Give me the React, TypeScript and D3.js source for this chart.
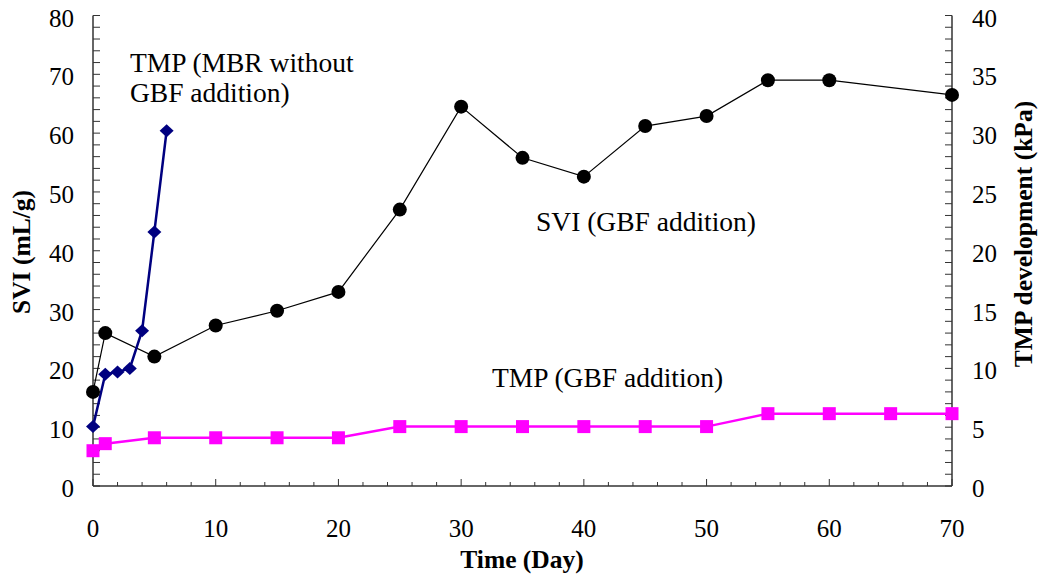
import React from "react";
import * as d3 from "d3";

const sviDays = [0, 1, 5, 10, 15, 20, 25, 30, 35, 40, 45, 50, 55, 60, 70];
const sviValues = [16, 26, 22, 27.3, 29.8, 33, 47, 64.5, 55.8, 52.6, 61.2, 62.9, 69, 69, 66.5];

const tmpMbrDays = [0, 1, 2, 3, 4, 5, 6];
const tmpMbrValues = [5.05, 9.5, 9.7, 10.0, 13.2, 21.6, 30.2];

const tmpGbfDays = [0, 1, 5, 10, 15, 20, 25, 30, 35, 40, 45, 50, 55, 60, 65, 70];
const tmpGbfValues = [3.0, 3.6, 4.1, 4.1, 4.1, 4.1, 5.05, 5.05, 5.05, 5.05, 5.05, 5.05, 6.15, 6.15, 6.15, 6.15];

const xTicks = [0, 10, 20, 30, 40, 50, 60, 70];
const leftTicks = [0, 10, 20, 30, 40, 50, 60, 70, 80];
const rightTicks = [0, 5, 10, 15, 20, 25, 30, 35, 40];

const W = 1043;
const H = 582;
const L = 93, R = 952, T = 15.5, B = 486;
const FONT = "\"Times New Roman\", Times, \"Liberation Serif\", serif";

export default function App() {
  const x = d3.scaleLinear().domain([0, 70]).range([L, R]);
  const yL = d3.scaleLinear().domain([0, 80]).range([B, T]);
  const yR = d3.scaleLinear().domain([0, 40]).range([B, T]);

  const sviPts: [number, number][] = sviDays.map((d, i) => [x(d), yL(sviValues[i])]);
  const mbrPts: [number, number][] = tmpMbrDays.map((d, i) => [x(d), yR(tmpMbrValues[i])]);
  const gbfPts: [number, number][] = tmpGbfDays.map((d, i) => [x(d), yR(tmpGbfValues[i])]);
  const line = d3.line();

  const xMinor = d3.range(0, 71, 2);
  const lMinor = d3.range(0, 81, 2);
  const rMinor = d3.range(0, 41, 1);
  const axisColor = "#333";
  const tick = { fontFamily: FONT, fontSize: 25 } as React.CSSProperties;
  const txt = { fontFamily: FONT, fontSize: 27.5 } as React.CSSProperties;
  const bold = { fontFamily: FONT, fontSize: 25.5, fontWeight: "bold" } as React.CSSProperties;

  return (
    <svg width={W} height={H} style={{ position: "absolute", left: 0, top: 0, background: "#fff" }}>
      <line x1={L} x2={L} y1={T} y2={B} stroke={axisColor} strokeWidth={1.5} />
      <line x1={R} x2={R} y1={T} y2={B} stroke={axisColor} strokeWidth={1.5} />
      <line x1={L} x2={R} y1={B} y2={B} stroke={axisColor} strokeWidth={1.5} />

      {xMinor.map((d) => (
        <line key={"xm" + d} x1={x(d)} x2={x(d)} y1={B} y2={B - (d % 10 === 0 ? 7 : 4)} stroke={axisColor} strokeWidth={1} />
      ))}
      {lMinor.map((d) => (
        <line key={"lm" + d} x1={L} x2={L + 7} y1={yL(d)} y2={yL(d)} stroke={axisColor} strokeWidth={1} />
      ))}
      {rMinor.map((d) => (
        <line key={"rm" + d} x1={R} x2={R - 7} y1={yR(d)} y2={yR(d)} stroke={axisColor} strokeWidth={1} />
      ))}

      {xTicks.map((d) => (
        <text key={"xt" + d} x={x(d)} y={537} textAnchor="middle" style={tick}>{d}</text>
      ))}
      {leftTicks.map((d) => (
        <text key={"lt" + d} x={L - 19} y={yL(d) + 11} textAnchor="end" style={tick}>{d}</text>
      ))}
      {rightTicks.map((d) => (
        <text key={"rt" + d} x={R + 20} y={yR(d) + 11} textAnchor="start" style={tick}>{d}</text>
      ))}

      <text x={522} y={568} textAnchor="middle" style={bold}>Time (Day)</text>
      <text transform="translate(30,252) rotate(-90)" textAnchor="middle" style={bold}>SVI (mL/g)</text>
      <text transform="translate(1032,234) rotate(-90)" textAnchor="middle" style={bold}>TMP development (kPa)</text>

      <path d={line(sviPts) || ""} fill="none" stroke="#000" strokeWidth={1.2} />
      <path d={line(gbfPts) || ""} fill="none" stroke="#FF00FF" strokeWidth={2.5} />
      <path d={line(mbrPts) || ""} fill="none" stroke="#000080" strokeWidth={2.5} />

      {sviPts.map(([px, py], i) => (
        <circle key={"c" + i} cx={px} cy={py} r={7} fill="#000" />
      ))}
      {gbfPts.map(([px, py], i) => (
        <rect key={"s" + i} x={px - 6.5} y={py - 6.5} width={13} height={13} fill="#FF00FF" />
      ))}
      {mbrPts.map(([px, py], i) => (
        <path key={"d" + i} d={`M${px},${py - 6.5}L${px + 7},${py}L${px},${py + 6.5}L${px - 7},${py}Z`} fill="#000080" />
      ))}

      <text x={130} y={72} style={txt}>TMP (MBR without</text>
      <text x={130} y={102} style={txt}>GBF addition)</text>
      <text x={536} y={231} style={txt}>SVI (GBF addition)</text>
      <text x={492} y={387} style={txt}>TMP (GBF addition)</text>
    </svg>
  );
}
